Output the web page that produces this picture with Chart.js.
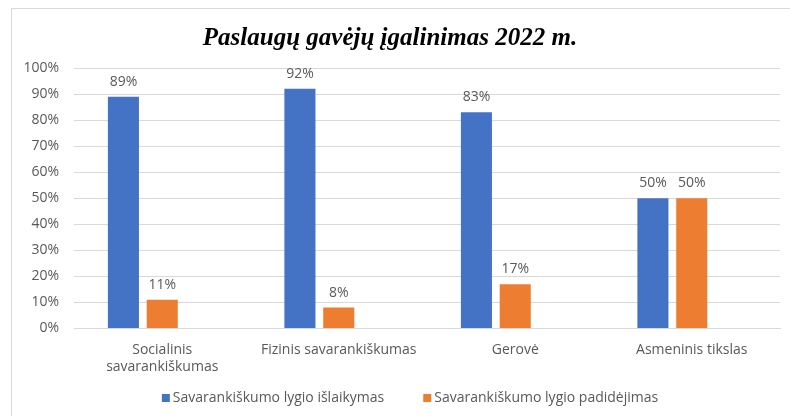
<!DOCTYPE html>
<html>
<head>
<meta charset="utf-8">
<script src="https://cdn.jsdelivr.net/npm/chart.js@4"></script>
<style>
  html, body { margin: 0; padding: 0; background: #fff; }
  #wrap { width: 790px; height: 416px; }
</style>
</head>
<body>
<div id="wrap"><canvas id="chart" width="790" height="416"></canvas></div>
<script>
const categories = [
    ['Socialinis', 'savarankiškumas'],
    'Fizinis savarankiškumas',
    'Gerovė',
    'Asmeninis tikslas',
];
const seriesNames = [
    'Savarankiškumo lygio išlaikymas',
    'Savarankiškumo lygio padidėjimas',
];
const kept = [89, 92, 83, 50];
const raised = [11, 8, 17, 50];
const empty = [null, null, null, null];

const textColor = '#595959';
const font = { family: '"Open Sans", sans-serif', size: 14 };

// frame around the whole chart
const frame = {
    id: 'frame',
    beforeDraw(chart) {
        const ctx = chart.ctx;
        ctx.save();
        ctx.fillStyle = '#fff';
        ctx.fillRect(0, 0, chart.width, chart.height);
        ctx.strokeStyle = '#d9d9d9';
        ctx.lineWidth = 1;
        ctx.strokeRect(11.5, 8.5, chart.width, chart.height);
        ctx.restore();
    },
};

// value labels above the bars
const valueLabels = {
    id: 'valueLabels',
    afterDatasetsDraw(chart) {
        const ctx = chart.ctx;
        ctx.save();
        ctx.font = font.size + 'px ' + font.family;
        ctx.fillStyle = textColor;
        ctx.textAlign = 'center';
        ctx.textBaseline = 'middle';
        chart.data.datasets.forEach((ds, i) => {
            chart.getDatasetMeta(i).data.forEach((bar, j) => {
                if (ds.data[j] == null) return;
                ctx.fillText(ds.data[j] + '%', bar.x, bar.y - 15);
            });
        });
        ctx.restore();
    },
};

// legend at the bottom
const bottomLegend = {
    id: 'bottomLegend',
    afterDraw(chart) {
        const ctx = chart.ctx;
        const items = chart.data.datasets.slice(0, 2);
        ctx.save();
        ctx.font = font.size + 'px ' + font.family;
        ctx.textBaseline = 'middle';
        ctx.textAlign = 'left';
        const widths = items.map(ds => ctx.measureText(ds.label).width);
        const total = widths.reduce((a, w) => a + w + 11, 0) + 39 * (items.length - 1);
        let x = 410 - total / 2;
        const y = chart.height - 18;
        items.forEach((ds, i) => {
            ctx.fillStyle = ds.backgroundColor;
            ctx.fillRect(x, y - 4, 8, 8);
            ctx.fillStyle = textColor;
            ctx.fillText(ds.label, x + 11, y);
            x += 11 + widths[i] + 39;
        });
        ctx.restore();
    },
};

const config = {
    type: 'bar',
    data: {
        labels: categories,
        datasets: [
            { label: seriesNames[0], data: kept, backgroundColor: '#4472C4' },
            { label: seriesNames[1], data: raised, backgroundColor: '#ED7D31' },
            { label: '', data: empty, backgroundColor: '#A5A5A5' },
        ],
    },
    options: {
        responsive: false,
        animation: false,
        categoryPercentage: 0.66,
        barPercentage: 0.8,
        layout: {
            padding: { left: 0, right: 10, top: 0, bottom: 28 },
        },
        plugins: {
            legend: { display: false },
            tooltip: { enabled: false },
            title: {
                display: true,
                text: 'Paslaugų gavėjų įgalinimas 2022 m.',
                color: '#000',
                font: { family: '"Liberation Serif", serif', size: 25, style: 'italic', weight: 'bold', lineHeight: 1.2 },
                padding: { top: 24, bottom: 14 },
            },
        },
        scales: {
            x: {
                grid: { display: false, drawTicks: false },
                border: { color: '#d9d9d9' },
                ticks: {
                    color: textColor,
                    font: { ...font, lineHeight: 1.2 },
                    padding: 13,
                    maxRotation: 0,
                    autoSkip: false,
                },
            },
            y: {
                min: 0,
                max: 100,
                grid: { color: '#d9d9d9', drawTicks: false },
                border: { display: false },
                ticks: {
                    stepSize: 10,
                    color: textColor,
                    font: font,
                    padding: 15,
                    callback: v => v + '%',
                },
                afterFit(scale) {
                    scale.width = 74;
                },
            },
        },
    },
    plugins: [frame, valueLabels, bottomLegend],
};

const element = document.getElementById('chart');
const chart = new Chart(element, config);
</script>
</body>
</html>
